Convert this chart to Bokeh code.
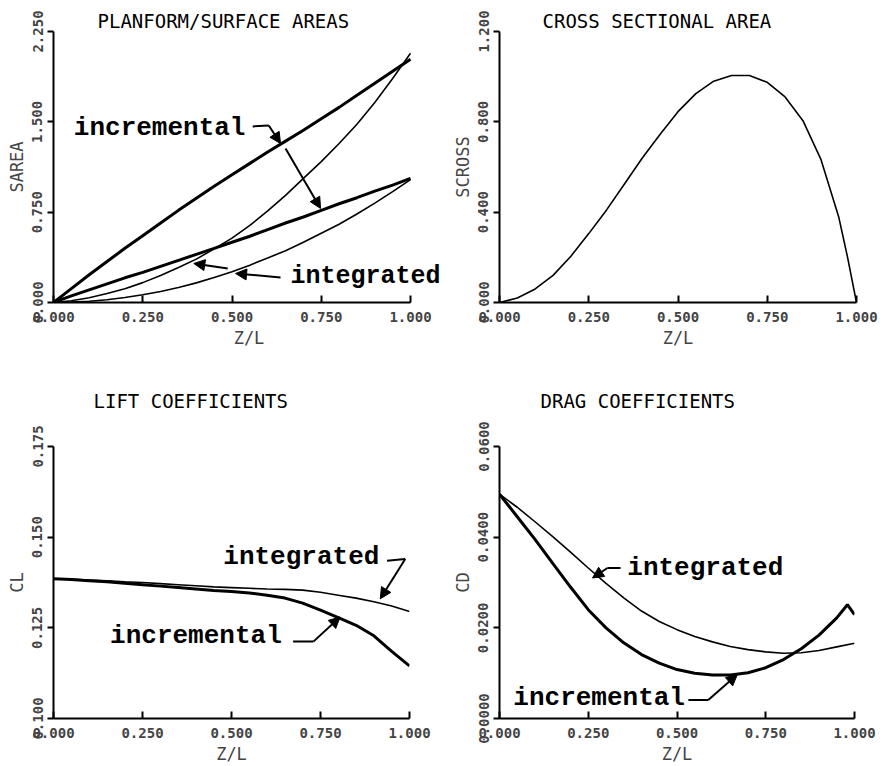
from bokeh.plotting import figure
from bokeh.layouts import column, row
from bokeh.models import (Range1d, FixedTicker, PrintfTickFormatter, Label, Arrow, NormalHead)
from bokeh.embed import file_html
from bokeh.resources import INLINE

# ---------------- data ----------------
X_TICKS = [0.0, 0.25, 0.5, 0.75, 1.0]

ZL = [0.0, 0.05, 0.1, 0.15, 0.2, 0.25, 0.3, 0.35, 0.4, 0.45, 0.5,
      0.55, 0.6, 0.65, 0.7, 0.75, 0.8, 0.85, 0.9, 0.95, 1.0]

# Planform / surface areas
sarea_inc_upper = [0.0, 0.115, 0.23, 0.34, 0.45, 0.555, 0.66, 0.765, 0.865, 0.965, 1.06,
                   1.155, 1.25, 1.34, 1.43, 1.525, 1.62, 1.72, 1.82, 1.92, 2.02]
sarea_int_upper = [0.0, 0.015, 0.04, 0.075, 0.115, 0.165, 0.225, 0.29, 0.36, 0.445, 0.535,
                   0.64, 0.76, 0.89, 1.03, 1.17, 1.32, 1.48, 1.66, 1.86, 2.07]
sarea_inc_lower = [0.0, 0.055, 0.105, 0.155, 0.205, 0.25, 0.30, 0.35, 0.40, 0.45, 0.50,
                   0.55, 0.605, 0.66, 0.71, 0.765, 0.82, 0.87, 0.925, 0.975, 1.03]
sarea_int_lower = [0.0, 0.003, 0.01, 0.023, 0.041, 0.064, 0.092, 0.125, 0.163, 0.207, 0.255,
                   0.31, 0.37, 0.43, 0.50, 0.575, 0.65, 0.735, 0.825, 0.92, 1.02]

# Cross sectional area
ZL_CROSS = [0.0, 0.05, 0.1, 0.15, 0.2, 0.25, 0.3, 0.35, 0.4, 0.45, 0.5,
            0.55, 0.6, 0.65, 0.7, 0.75, 0.8, 0.85, 0.9, 0.95, 0.975, 1.0]
scross = [0.0, 0.02, 0.06, 0.12, 0.205, 0.305, 0.41, 0.525, 0.64, 0.745, 0.845,
          0.925, 0.98, 1.005, 1.005, 0.975, 0.91, 0.805, 0.635, 0.38, 0.2, 0.0]

# Lift coefficients
cl_int = [0.1385, 0.1384, 0.1382, 0.1380, 0.1377, 0.1375, 0.1372, 0.1369, 0.1366, 0.1363, 0.1361,
          0.1359, 0.1357, 0.1356, 0.1354, 0.1348, 0.1340, 0.1332, 0.1322, 0.1310, 0.1295]
cl_inc = [0.1385, 0.1383, 0.1380, 0.1377, 0.1373, 0.1369, 0.1365, 0.1361, 0.1357, 0.1353, 0.1350,
          0.1346, 0.1340, 0.1332, 0.1318, 0.1299, 0.1278, 0.1257, 0.1228, 0.1185, 0.1145]

# Drag coefficients
cd_int = [0.0495, 0.0466, 0.0434, 0.0401, 0.0367, 0.0332, 0.0298, 0.0266, 0.0237, 0.0214, 0.0196,
          0.0181, 0.0169, 0.0159, 0.0152, 0.0147, 0.0144, 0.0145, 0.0150, 0.0158, 0.0166]
ZL_CD_INC = [0.0, 0.05, 0.1, 0.15, 0.2, 0.25, 0.3, 0.35, 0.4, 0.45, 0.5,
             0.55, 0.6, 0.65, 0.7, 0.75, 0.8, 0.85, 0.9, 0.95, 0.98, 1.0]
cd_inc = [0.0495, 0.0445, 0.0395, 0.0342, 0.0290, 0.0240, 0.0200, 0.0167, 0.0141, 0.0122, 0.0108,
          0.0100, 0.0096, 0.0096, 0.0101, 0.0112, 0.0130, 0.0154, 0.0184, 0.0222, 0.0251, 0.0229]

# ---------------- styling helpers ----------------
PLOT_FONT = "DejaVu Sans Mono"
NOTE_FONT = "Liberation Mono"


def style_axes(p, yticks, yfmt):
    xa = p.below[0]
    ya = p.left[0]

    xa.ticker = FixedTicker(ticks=X_TICKS)
    xa.formatter = PrintfTickFormatter(format="%.3f")
    xa.bounds = (0.0, 1.0)
    xa.major_tick_in = 7
    xa.major_tick_out = 0
    xa.minor_tick_line_color = None
    xa.axis_line_width = 2
    xa.major_tick_line_width = 2
    xa.major_label_standoff = 9
    xa.major_label_text_font = PLOT_FONT
    xa.major_label_text_font_size = "14px"
    xa.major_label_text_font_style = "bold"
    xa.axis_label_text_font = PLOT_FONT
    xa.axis_label_text_font_size = "17px"
    xa.axis_label_text_font_style = "normal"
    xa.axis_label_standoff = 3

    ya.ticker = FixedTicker(ticks=yticks)
    ya.formatter = PrintfTickFormatter(format=yfmt)
    ya.major_label_orientation = "vertical"
    ya.major_tick_in = 0
    ya.major_tick_out = 6
    ya.minor_tick_line_color = None
    ya.axis_line_width = 2
    ya.major_tick_line_width = 2
    ya.major_label_standoff = 5
    ya.major_label_text_font = PLOT_FONT
    ya.major_label_text_font_size = "14px"
    ya.major_label_text_font_style = "bold"
    ya.axis_label_text_font = PLOT_FONT
    ya.axis_label_text_font_size = "17px"
    ya.axis_label_text_font_style = "normal"
    ya.axis_label_standoff = 3


TOP_H = 351      # top row height
BOT_H = 766 - TOP_H


def make_fig(title, ylabel, yr, yticks, yfmt, width, height, bl, br, bt, bb,
             title_left, title_standoff, x_end=1.0):
    p = figure(width=width, height=height,
               x_range=Range1d(0.0, x_end), y_range=Range1d(yr[0], yr[1]),
               output_backend="svg", toolbar_location=None,
               min_border_left=bl, min_border_right=br,
               min_border_top=bt, min_border_bottom=bb,
               x_axis_label="Z/L", y_axis_label=ylabel)
    p.outline_line_color = None
    p.grid.visible = False
    p.background_fill_color = "white"
    p.border_fill_color = "white"
    style_axes(p, yticks, yfmt)

    p.title.text = title
    p.title.text_font = PLOT_FONT
    p.title.text_font_size = "19px"
    p.title.text_font_style = "normal"
    p.title.text_color = "black"
    p.title.align = "left"
    p.title.offset = title_left
    p.title.standoff = title_standoff
    return p


def note(p, x, y, text, size="26px"):
    p.add_layout(Label(x=x, y=y, text=text, text_font=NOTE_FONT, text_font_style="bold",
                       text_font_size=size, text_baseline="middle", text_align="left",
                       text_color="black"))


def arrow(p, x0, y0, x1, y1, head=True):
    end = NormalHead(size=11, fill_color="black", line_color="black", line_width=1) if head else None
    p.add_layout(Arrow(end=end, x_start=x0, y_start=y0, x_end=x1, y_end=y1,
                       line_width=2, line_color="black"))


THICK = 3.0
THIN = 1.6

# ---------------- panel 1 ----------------
p1 = make_fig("PLANFORM/SURFACE AREAS", "SAREA", (0.0, 2.25), [0.0, 0.75, 1.5, 2.25], "%.3f",
              444, TOP_H, 53, 0, 31, TOP_H - 302, 44, 0, x_end=(444 - 53) / 357)
p1.line(ZL, sarea_int_upper, line_width=THIN, color="black")
p1.line(ZL, sarea_int_lower, line_width=THIN, color="black")
p1.line(ZL, sarea_inc_upper, line_width=THICK, color="black")
p1.line(ZL, sarea_inc_lower, line_width=THICK, color="black")
note(p1, 0.057, 1.445, "incremental")
note(p1, 0.664, 0.216, "integrated", size="25px")
arrow(p1, 0.558, 1.462, 0.603, 1.47, head=False)
arrow(p1, 0.603, 1.47, 0.636, 1.32)
arrow(p1, 0.650, 1.279, 0.748, 0.781)
arrow(p1, 0.488, 0.282, 0.393, 0.324)
arrow(p1, 0.636, 0.208, 0.510, 0.241)

# ---------------- panel 2 ----------------
p2 = make_fig("CROSS SECTIONAL AREA", "SCROSS", (0.0, 1.2), [0.0, 0.4, 0.8, 1.2], "%.3f",
              443, TOP_H, 55, 31, 31, TOP_H - 302, 43, 0)
p2.line(ZL_CROSS, scross, line_width=THIN, color="black")

# ---------------- panel 3 ----------------
p3 = make_fig("LIFT COEFFICIENTS", "CL", (0.1, 0.175), [0.1, 0.125, 0.15, 0.175], "%.3f",
              444, BOT_H, 53, 35, 446 - TOP_H, 48, 40, 69)
p3.line(ZL, cl_int, line_width=THIN, color="black")
p3.line(ZL, cl_inc, line_width=THICK, color="black")
note(p3, 0.477, 0.1445, "integrated")
note(p3, 0.159, 0.1228, "incremental")
arrow(p3, 0.937, 0.1435, 0.988, 0.144, head=False)
arrow(p3, 0.988, 0.144, 0.918, 0.133)
arrow(p3, 0.673, 0.1212, 0.730, 0.1212, head=False)
arrow(p3, 0.730, 0.1212, 0.805, 0.128)

# ---------------- panel 4 ----------------
p4 = make_fig("DRAG COEFFICIENTS", "CD", (0.0, 0.06), [0.0, 0.02, 0.04, 0.06], "%.4f",
              443, BOT_H, 55, 33, 446 - TOP_H, 48, 41, 69)
p4.line(ZL, cd_int, line_width=THIN, color="black")
p4.line(ZL_CD_INC, cd_inc, line_width=THICK, color="black")
note(p4, 0.360, 0.0332, "integrated")
note(p4, 0.039, 0.0046, "incremental")
arrow(p4, 0.341, 0.0332, 0.304, 0.0332, head=False)
arrow(p4, 0.304, 0.0332, 0.262, 0.031)
arrow(p4, 0.532, 0.0041, 0.588, 0.0041, head=False)
arrow(p4, 0.588, 0.0041, 0.670, 0.0097)

layout = column(row(p1, p2), row(p3, p4))
open("out.html", "w").write(file_html(layout, INLINE))
